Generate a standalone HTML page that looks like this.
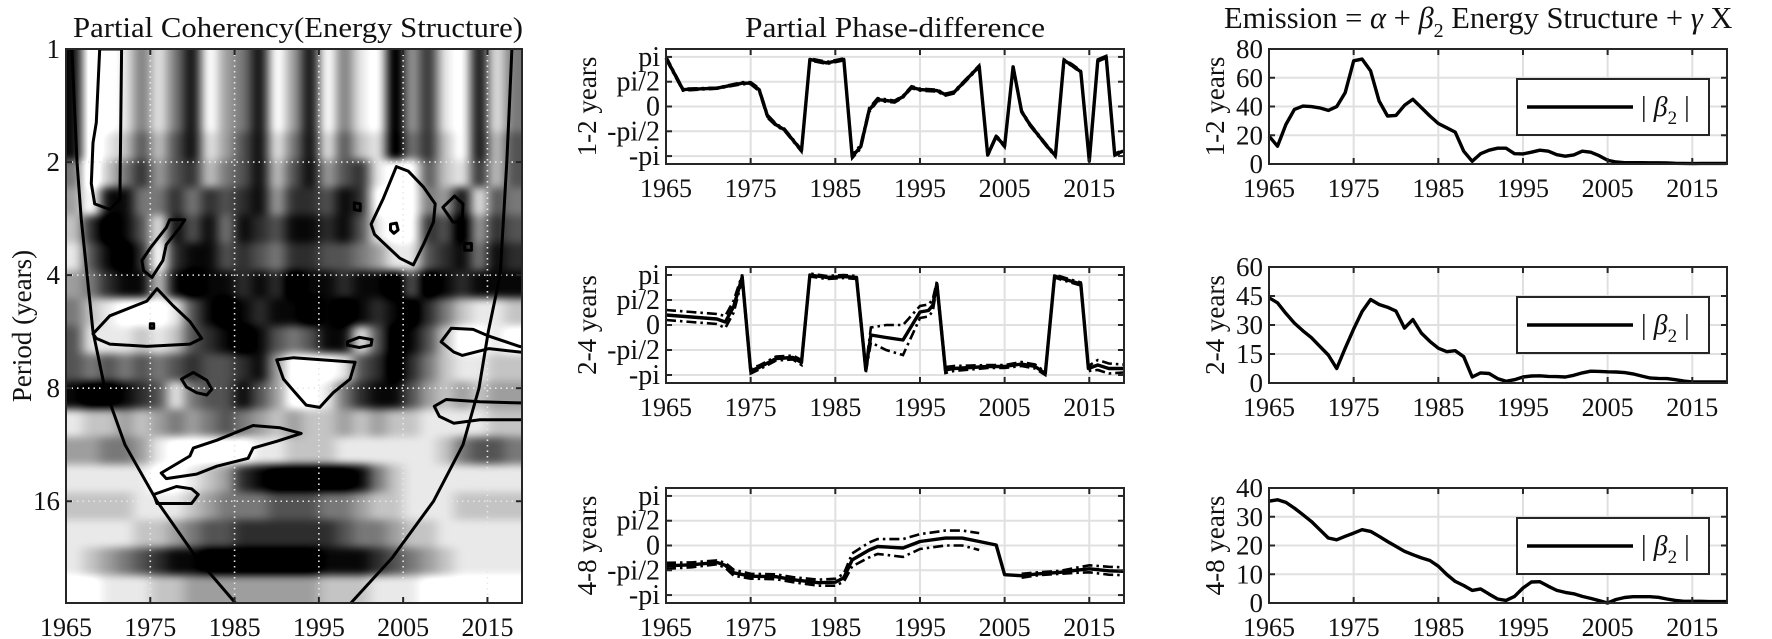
<!DOCTYPE html>
<html><head><meta charset="utf-8"><title>Partial wavelet coherency</title>
<style>
html,body{margin:0;padding:0;background:#fff;}
svg{display:block;font-family:"Liberation Serif",serif;}
</style></head>
<body>
<svg id="fig" xmlns="http://www.w3.org/2000/svg" width="1772" height="639" viewBox="0 0 1772 639">
<defs>
<clipPath id="clipL"><rect x="66" y="49" width="456" height="554"/></clipPath>
<filter id="blurL" filterUnits="userSpaceOnUse" x="40" y="20" width="510" height="610" color-interpolation-filters="sRGB">
<feGaussianBlur stdDeviation="6 4" edgeMode="duplicate"/>
<feComponentTransfer>
<feFuncR type="linear" slope="1.45" intercept="-0.22"/>
<feFuncG type="linear" slope="1.45" intercept="-0.22"/>
<feFuncB type="linear" slope="1.45" intercept="-0.22"/>
</feComponentTransfer>
</filter>
</defs>
</svg>
<script>
// ---------- DATA ----------
const xTickYears = [1965,1975,1985,1995,2005,2015];
const periodTicks = [1,2,4,8,16];
const phaseTickVals = [1,0.5,0,-0.5,-1];
const phaseTickLabels = ["pi","pi/2","0","-pi/2","-pi"];

// coherency heatmap: rows = log2-period bands (top to bottom), columns = 2-year bins 1965..2019, 0=white 9=black
const heatRows = [
"801252581458148152194721825",
"801252581458148152194721825",
"801252581458148152194721825",
"802363682468258263295731836",
"503574673568368467211632736",
"418855757678477687111548265",
"379862868587688786211769476",
"268971788676577665422678587",
"457883898878798878896987888",
"532111268987889898789753223",
"622232367898656882698631121",
"656565676678411126797532233",
"899876256686411257886434344",
"233434545654343343433222233",
"445542111112233322222235665",
"222221123478999998532222222",
"333322234555666554332223333",
"222233456677777765543322222",
"234567889999999888765432222",
"112223344444444333222111111"
];
const heatStartYear = 1965;
const heatColYears = 2;
const heatLog2Max = 4.9;

// significance contours [year, log2(period)]
const contours = [
 [[1969.0,0],[1971.6,0],[1971.4,1.33],[1970.2,1.42],[1968.4,1.37],[1968.0,1.19],[1968.2,0.83],[1968.6,0.65]],
 [[1974.0,1.87],[1975.0,1.76],[1976.9,1.58],[1977.3,1.51],[1979.1,1.51],[1978.5,1.58],[1976.9,1.73],[1976.5,1.87],[1975.2,2.02],[1974.2,1.96]],
 [[1968.2,2.52],[1970.2,2.36],[1974.6,2.23],[1975.8,2.12],[1977.7,2.27],[1979.7,2.41],[1981.1,2.56],[1979.7,2.61],[1974.6,2.63],[1970.2,2.61],[1968.6,2.56]],
 [[1975.0,2.43],[1975.4,2.43],[1975.4,2.47],[1975.0,2.47]],
 [[1978.7,2.92],[1980.1,2.86],[1981.7,2.93],[1982.3,3.01],[1981.7,3.06],[1980.5,3.04],[1979.3,2.99]],
 [[1976.3,3.75],[1979.7,3.60],[1980.1,3.53],[1982.9,3.46],[1987.2,3.33],[1990.4,3.35],[1992.9,3.40],[1990.0,3.47],[1987.2,3.53],[1986.6,3.62],[1982.9,3.69],[1980.5,3.76],[1976.9,3.80]],
 [[1975.4,3.94],[1978.1,3.87],[1979.9,3.89],[1980.7,3.94],[1979.9,4.02],[1975.8,4.02]],
 [[1990.0,2.75],[1992.0,2.73],[1999.3,2.77],[1998.7,2.92],[1996.7,3.04],[1995.1,3.17],[1993.5,3.15],[1992.2,3.04],[1990.8,2.92]],
 [[1998.4,2.59],[1999.8,2.55],[2001.3,2.57],[2001.2,2.62],[1999.8,2.64],[1998.4,2.62]],
 [[2001.2,1.55],[2002.6,1.33],[2004.2,1.04],[2005.6,1.08],[2007.4,1.22],[2008.8,1.37],[2008.6,1.53],[2007.4,1.73],[2006.2,1.91],[2004.6,1.85],[2002.6,1.71],[2001.6,1.64]],
 [[2003.5,1.55],[2004.2,1.54],[2004.4,1.6],[2003.9,1.63],[2003.5,1.6]],
 [[1999.2,1.36],[1999.9,1.37],[1999.9,1.43],[1999.2,1.42]],
 [[2009.7,1.40],[2011.1,1.30],[2012.1,1.37],[2012.0,1.53],[2010.9,1.53]],
 [[2012.3,1.72],[2013.1,1.72],[2013.1,1.78],[2012.3,1.78]],
 [[2008.0,2.07],[2008.8,2.07],[2008.8,2.14],[2008.0,2.14]],
 [[2009.5,2.59],[2010.7,2.47],[2013.3,2.48],[2015.2,2.54],[2018.8,2.63],[2020,2.65],[2020,2.69],[2018.8,2.68],[2015.2,2.65],[2012.0,2.71],[2011.0,2.68]],
 [[2008.7,3.16],[2010.1,3.10],[2014.1,3.12],[2018.8,3.13],[2020,3.13],[2020,3.28],[2018.8,3.28],[2014.1,3.28],[2011.0,3.31],[2009.3,3.25]]
];
// cone of influence
const coiLog2 = [0,0.5,1,1.5,2,2.5,3,3.5,4,4.5,4.9];
const coiLeftOffset = [0.7,1.0,1.3,1.8,2.5,3.2,4.6,7.0,10.8,15.5,20.1];
const coiRightOffset = [1.2,1.5,1.8,2.2,2.6,4.0,5.1,7.0,10.5,15.4,20.3];

// phase-difference (units of pi)
const phaseYears1 = [1965,1967,1971,1974,1975,1976,1977,1978,1979,1981,1982,1984,1986,1987,1988,1989,1990,1992,1993,1994,1995,1997,1998,1999,2002,2003,2004,2005,2006,2007,2008,2010,2011,2012,2013,2014,2015,2016,2017,2018,2019];
const phaseVals1 = [0.98,0.34,0.37,0.47,0.47,0.34,-0.2,-0.37,-0.47,-0.89,0.95,0.88,0.95,-1.01,-0.81,-0.07,0.14,0.1,0.2,0.39,0.34,0.32,0.24,0.28,0.81,-0.98,-0.6,-0.8,0.8,-0.1,-0.37,-0.8,-0.99,0.93,0.83,0.7,-1.1,0.93,1.0,-0.97,-0.9];
const phaseSpread1 = [0.03,0.02,0.01,0.02,0.02,0.03,0.03,0.02,0.02,0.02,0.02,0.02,0.02,0.03,0.04,0.04,0.03,0.02,0.02,0.02,0.02,0.02,0.02,0.02,0.02,0.02,0.02,0.02,0.02,0.02,0.02,0.02,0.02,0.02,0.02,0.02,0.02,0.02,0.02,0.02,0.02];

const phaseYears2 = [1965,1968,1971,1972,1973,1974,1975,1976,1978,1980,1981,1982,1984,1986,1987.5,1988.6,1989.2,1991,1993,1995,1996,1996.5,1997,1998,1999,2001,2003,2005,2007,2008.6,2009.8,2010.9,2012,2014,2014.9,2016,2017.3,2019];
const phaseVals2 = [0.2,0.16,0.12,0.06,0.37,0.96,-0.92,-0.85,-0.67,-0.65,-0.75,1.0,0.95,0.97,0.95,-0.9,-0.2,-0.25,-0.3,0.26,0.29,0.39,0.82,-0.9,-0.87,-0.85,-0.83,-0.83,-0.78,-0.83,-0.97,0.98,0.92,0.82,-0.87,-0.8,-0.87,-0.87];
const phaseSpread2 = [0.1,0.1,0.1,0.12,0.12,0.05,0.05,0.04,0.04,0.04,0.05,0.03,0.03,0.03,0.03,0.05,0.15,0.25,0.3,0.12,0.12,0.12,0.05,0.06,0.05,0.04,0.03,0.03,0.04,0.04,0.03,0.03,0.03,0.03,0.05,0.1,0.1,0.08];

const phaseYears3 = [1965,1968,1971,1972,1973,1975,1978,1980,1983,1985,1986,1987,1989,1990,1993,1995,1998,2000,2002,2004,2005,2007,2009,2011.6,2013.4,2015,2017.3,2019];
const phaseVals3 = [-0.41,-0.39,-0.34,-0.4,-0.55,-0.62,-0.63,-0.69,-0.75,-0.74,-0.65,-0.29,-0.09,-0.02,-0.05,0.08,0.15,0.15,0.08,0.01,-0.59,-0.61,-0.57,-0.54,-0.5,-0.47,-0.51,-0.52];
const phaseSpread3 = [0.06,0.05,0.04,0.05,0.06,0.05,0.05,0.05,0.06,0.07,0.08,0.13,0.15,0.15,0.18,0.15,0.15,0.15,0.17,null,null,0.04,0.03,0.03,0.05,0.07,0.08,0.08];

// |beta2| annual 1965..2019
const betaStartYear = 1965;
const beta1 = [19.4,12.4,27.5,38,40.3,39.9,39,37.3,39.9,49.7,71.8,73,64.8,43.8,33.4,33.8,40.8,45,39.2,33.4,28.2,25.2,22.2,8.9,1.9,7.2,9.6,11,11,7.2,7,8.2,9.6,8.9,6.5,5.4,6.3,8.9,8.2,5.8,2.6,1.4,0.9,0.9,0.9,0.8,0.8,0.7,0.5,0.4,0.3,0.4,0.4,0.4,0.4];
const beta2 = [44.1,41.5,36,31,27,23.5,19,14.5,7.5,18,28,37,43.2,40.6,39.2,37.2,28.4,32.8,25.8,21.5,18,16.2,16.7,13.6,3.1,5.2,4.9,2.3,0.9,1.7,3.1,3.6,3.7,3.4,3.3,3.1,4,5.2,6.1,6,5.8,5.7,5.4,4.7,3.6,2.6,2.4,2.3,1.7,1,0.5,0.5,0.5,0.5,0.5];
const beta3 = [35.4,35.9,35,33,30.7,28.4,25.5,22.6,22,23.2,24.3,25.5,24.9,23.2,21.4,19.7,18,16.8,15.7,14.8,12.8,9.9,7.5,6.1,4.4,4.9,3.1,1.4,0.9,2.3,5.2,7.3,7.4,5.8,4.4,3.7,3.2,2.3,1.6,0.8,0,1.2,1.9,2.2,2.2,2.2,2,1.4,0.9,0.6,0.6,0.6,0.5,0.5,0.5];
const betaTicks1 = [0,20,40,60,80];
const betaTicks2 = [0,15,30,45,60];
const betaTicks3 = [0,10,20,30,40];
const rowLabels = ["1-2 years","2-4 years","4-8 years"];

// ---------- RENDER ----------
const NS = "http://www.w3.org/2000/svg";
const svg = document.getElementById("fig");
function mk(tag, attrs, parent){
  const e = document.createElementNS(NS, tag);
  for (const k in attrs) e.setAttribute(k, attrs[k]);
  (parent || svg).appendChild(e);
  return e;
}
const X0 = 1965, X1 = 2019.1;
function xScaleFor(p){ return y => p.x0 + (y - X0) / (X1 - X0) * (p.x1 - p.x0); }
const AX = "#262626";

// ===== LEFT PANEL =====
const PL = {x0:66, x1:522, y0:49, y1:603};
const xL = xScaleFor(PL);
const yL = l2 => PL.y0 + l2 / heatLog2Max * (PL.y1 - PL.y0);
const gL = mk("g", {"clip-path":"url(#clipL)"});


const gHeat = mk("g", {filter:"url(#blurL)"}, gL);


const nRows = heatRows.length;
heatRows.forEach((row, r) => {
  for (let c = 0; c < row.length; c++) {
    const v = +row[c];
    const g = Math.round(252 - v * 26);
    let ya = yL(r * heatLog2Max / nRows), yb = yL((r + 1) * heatLog2Max / nRows);
    let xa = xL(heatStartYear + c * heatColYears), xb = xL(heatStartYear + (c + 1) * heatColYears);
    if (r === 0) ya -= 30;
    if (r === nRows - 1) yb += 30;
    if (c === 0) xa -= 30;
    if (c === row.length - 1) xb += 30;
    const cell = mk("rect", {x:xa, y:ya, width:xb - xa + 0.6, height:yb - ya + 0.6, fill:`rgb(${g},${g},${g})`}, gHeat);
    
    
  }
});
// dotted grid
xTickYears.forEach(yr => {
  const l = mk("line", {x1:xL(yr), x2:xL(yr), y1:PL.y0, y2:PL.y1, stroke:"#e8e8e8", "stroke-width":1.6, "stroke-dasharray":"1.5,4"}, gL);
  
  
});
periodTicks.forEach(p => {
  const yy = yL(Math.log2(p));
  const l = mk("line", {x1:PL.x0, x2:PL.x1, y1:yy, y2:yy, stroke:"#e8e8e8", "stroke-width":1.6, "stroke-dasharray":"1.5,4"}, gL);
  
  
});
// contours
contours.forEach(pts => {
  const d = pts.map((p, i) => (i ? "L" : "M") + xL(p[0]).toFixed(1) + "," + yL(p[1]).toFixed(1)).join("") + "Z";
  const pth = mk("path", {d:d, fill:"none", stroke:"#000", "stroke-width":3, "stroke-linejoin":"round"}, gL);
  
  
});
// cone of influence
const coiL = coiLog2.map((l, i) => (i ? "L" : "M") + xL(X0 + coiLeftOffset[i]).toFixed(1) + "," + yL(l).toFixed(1)).join("");
const coiR = coiLog2.map((l, i) => (i ? "L" : "M") + xL(X1 - coiRightOffset[i]).toFixed(1) + "," + yL(l).toFixed(1)).join("");
const coi1 = mk("path", {d:coiL, fill:"none", stroke:"#000", "stroke-width":3}, gL);


const coi2 = mk("path", {d:coiR, fill:"none", stroke:"#000", "stroke-width":3}, gL);


// frame & ticks
const frL = mk("rect", {x:PL.x0, y:PL.y0, width:PL.x1 - PL.x0, height:PL.y1 - PL.y0, fill:"none", stroke:AX, "stroke-width":2});


xTickYears.forEach(yr => {
  const x = xL(yr);
  mk("line", {x1:x, x2:x, y1:PL.y1, y2:PL.y1 - 6, stroke:AX, "stroke-width":2});
  mk("line", {x1:x, x2:x, y1:PL.y0, y2:PL.y0 + 6, stroke:AX, "stroke-width":2});
  const t = mk("text", {x:x, y:PL.y1 + 33, "text-anchor":"middle", "font-size":26, fill:"#111"});
  t.textContent = yr;
  
  
});
periodTicks.forEach(p => {
  const yy = yL(Math.log2(p));
  mk("line", {x1:PL.x0, x2:PL.x0 + 6, y1:yy, y2:yy, stroke:AX, "stroke-width":2});
  mk("line", {x1:PL.x1, x2:PL.x1 - 6, y1:yy, y2:yy, stroke:AX, "stroke-width":2});
  const t = mk("text", {x:PL.x0 - 6, y:yy + 9, "text-anchor":"end", "font-size":27, fill:"#111"});
  t.textContent = p;
  
  
});
const ylab = mk("text", {x:0, y:0, transform:"translate(31,326) rotate(-90)", "text-anchor":"middle", "font-size":27, fill:"#111"});
ylab.textContent = "Period (years)";


const tL = mk("text", {x:298, y:37, "text-anchor":"middle", "font-size":28, fill:"#111", textLength:450, lengthAdjust:"spacingAndGlyphs"});
tL.textContent = "Partial Coherency(Energy Structure)";



// ===== ROWS =====
const rows = [{y0:49, y1:164}, {y0:267, y1:383}, {y0:488, y1:603}];
const PHMAX = 1.16;

function frameAndGrid(p, xs, ys, yTickVals, yTickLabels, name){
  const g = mk("g", {});
  
  
  xTickYears.forEach(yr => {
    const l = mk("line", {x1:xs(yr), x2:xs(yr), y1:p.y0, y2:p.y1, stroke:"#e0e0e0", "stroke-width":2}, g);
    
    
  });
  yTickVals.forEach(v => {
    const l = mk("line", {x1:p.x0, x2:p.x1, y1:ys(v), y2:ys(v), stroke:"#e0e0e0", "stroke-width":2}, g);
    
    
  });
  return g;
}
function frameTicks(p, xs, ys, yTickVals, yTickLabels, ytFont){
  const fr = mk("rect", {x:p.x0, y:p.y0, width:p.x1 - p.x0, height:p.y1 - p.y0, fill:"none", stroke:AX, "stroke-width":2});
  
  
  xTickYears.forEach(yr => {
    const x = xs(yr);
    mk("line", {x1:x, x2:x, y1:p.y1, y2:p.y1 - 6, stroke:AX, "stroke-width":2});
    mk("line", {x1:x, x2:x, y1:p.y0, y2:p.y0 + 6, stroke:AX, "stroke-width":2});
    const t = mk("text", {x:x, y:p.y1 + 33, "text-anchor":"middle", "font-size":26, fill:"#111"});
    t.textContent = yr;
    
    
  });
  yTickVals.forEach((v, i) => {
    const yy = ys(v);
    mk("line", {x1:p.x0, x2:p.x0 + 6, y1:yy, y2:yy, stroke:AX, "stroke-width":2});
    mk("line", {x1:p.x1, x2:p.x1 - 6, y1:yy, y2:yy, stroke:AX, "stroke-width":2});
    const t = mk("text", {x:p.x0 - 6, y:yy + 9, "text-anchor":"end", "font-size":ytFont, fill:"#111"});
    t.textContent = yTickLabels[i];
    
    
  });
}
function pathFrom(xsArr, vals, xs, ys){
  let d = "", pen = false;
  for (let i = 0; i < vals.length; i++) {
    if (vals[i] === null || isNaN(vals[i])) { pen = false; continue; }
    d += (pen ? "L" : "M") + xs(xsArr[i]).toFixed(1) + "," + ys(vals[i]).toFixed(1);
    pen = true;
  }
  return d;
}

// ===== MIDDLE PANELS =====
const phaseYears = [phaseYears1, phaseYears2, phaseYears3];
const phaseVals = [phaseVals1, phaseVals2, phaseVals3];
const phaseSpreads = [phaseSpread1, phaseSpread2, phaseSpread3];
rows.forEach((r, k) => {
  const p = {x0:666, x1:1124, y0:r.y0, y1:r.y1};
  const xs = xScaleFor(p);
  const ys = v => p.y0 + (PHMAX - v) / (2 * PHMAX) * (p.y1 - p.y0);
  frameAndGrid(p, xs, ys, phaseTickVals, phaseTickLabels, 'phase-grid-' + (k + 1));
  const yrs = phaseYears[k], vals = phaseVals[k], sp = phaseSpreads[k];
  const upper = vals.map((v, i) => sp[i] === null ? null : v + sp[i]);
  const lower = vals.map((v, i) => sp[i] === null ? null : v - sp[i]);
  const u = mk("path", {d:pathFrom(yrs, upper, xs, ys), fill:"none", stroke:"#000", "stroke-width":2.6, "stroke-dasharray":"10,4,2.5,4"});
  
  
  const lo = mk("path", {d:pathFrom(yrs, lower, xs, ys), fill:"none", stroke:"#000", "stroke-width":2.6, "stroke-dasharray":"10,4,2.5,4"});
  
  
  const s = mk("path", {d:pathFrom(yrs, vals, xs, ys), fill:"none", stroke:"#000", "stroke-width":3.4, "stroke-linejoin":"round"});
  
  
  frameTicks(p, xs, ys, phaseTickVals, phaseTickLabels, 28);
  const cy = (p.y0 + p.y1) / 2;
  const yl = mk("text", {x:0, y:0, transform:`translate(596,${cy}) rotate(-90)`, "text-anchor":"middle", "font-size":27, fill:"#111"});
  yl.textContent = rowLabels[k];
  
  
});
const tM = mk("text", {x:895, y:37, "text-anchor":"middle", "font-size":28, fill:"#111", textLength:300, lengthAdjust:"spacingAndGlyphs"});
tM.textContent = "Partial Phase-difference";



// ===== RIGHT PANELS =====
const betaSeries = [beta1, beta2, beta3];
const betaTicks = [betaTicks1, betaTicks2, betaTicks3];
rows.forEach((r, k) => {
  const p = {x0:1269, x1:1727, y0:r.y0, y1:r.y1};
  const xs = xScaleFor(p);
  const tk = betaTicks[k];
  const ymax = tk[tk.length - 1];
  const ys = v => p.y1 - v / ymax * (p.y1 - p.y0);
  frameAndGrid(p, xs, ys, tk, tk, 'beta-grid-' + (k + 1));
  const vals = betaSeries[k];
  const yrs = vals.map((v, i) => betaStartYear + i);
  const s = mk("path", {d:pathFrom(yrs, vals, xs, ys), fill:"none", stroke:"#000", "stroke-width":3.4, "stroke-linejoin":"round"});
  
  
  frameTicks(p, xs, ys, tk, tk.map(String), 27);
  // legend
  const lg = mk("g", {});
  
  
  const lb = mk("rect", {x:1517, y:p.y0 + 30, width:192, height:56, fill:"#fff", stroke:AX, "stroke-width":2}, lg);
  
  
  const ll = mk("line", {x1:1527, x2:1633, y1:p.y0 + 58, y2:p.y0 + 58, stroke:"#000", "stroke-width":3.4}, lg);
  
  
  const lt = mk("text", {x:1641, y:p.y0 + 67, "font-size":28, fill:"#111"}, lg);
  lt.innerHTML = '| <tspan font-style="italic">β</tspan><tspan font-size="19" dy="8">2</tspan><tspan dy="-8"> |</tspan>';
  
  
  const cy = (p.y0 + p.y1) / 2;
  const yl = mk("text", {x:0, y:0, transform:`translate(1224,${cy}) rotate(-90)`, "text-anchor":"middle", "font-size":27, fill:"#111"});
  yl.textContent = rowLabels[k];
  
  
});
const tR = mk("text", {x:1224, y:28, "font-size":30.5, fill:"#111"});
tR.innerHTML = 'Emission = <tspan font-style="italic">α</tspan> + <tspan font-style="italic">β</tspan><tspan font-size="20" dy="9">2</tspan><tspan dy="-9"> Energy Structure + </tspan><tspan font-style="italic">γ</tspan> X';


</script>
</body></html>
